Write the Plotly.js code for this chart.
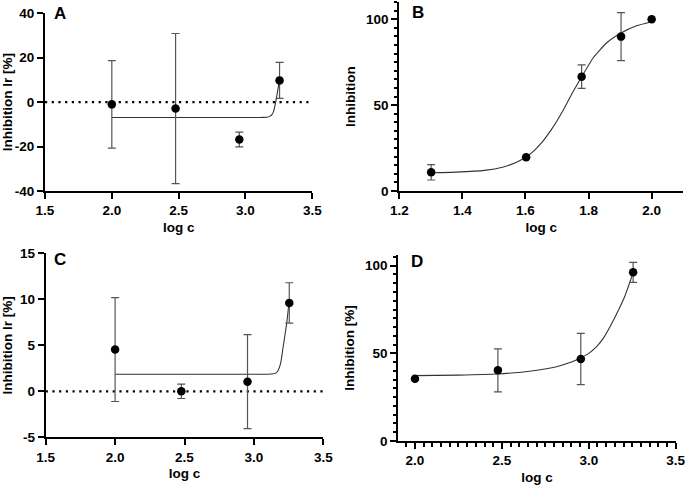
<!DOCTYPE html>
<html>
<head>
<meta charset="utf-8">
<script src="https://cdn.plot.ly/plotly-3.0.1.min.js"></script>
<style>html,body{margin:0;padding:0;background:#fff;}#chart{width:685px;height:487px;}</style>
</head>
<body>
<div id="chart"></div>
<script>
// ---------- Data ----------
// Panel A
const A_x = [2.0, 2.477, 2.954, 3.255];
const A_y = [-1.0, -2.9, -16.8, 9.8];
const A_err = [19.7, 33.8, 3.3, 8.1];
const A_curveX = [2.0, 2.5, 3.0, 3.12, 3.16, 3.184, 3.198, 3.209, 3.229, 3.246, 3.255];
const A_curveY = [-6.9, -6.9, -6.9, -6.88, -6.8, -6.3, -5.6, -4.4, 0.9, 6.9, 9.9];
const A_yticks = [-40, -20, 0, 20, 40];
const A_yticktext = ['-40', '-20', '0', '20', '40'];

// Panel B
const B_x = [1.301, 1.602, 1.778, 1.903, 2.0];
const B_y = [10.9, 19.6, 66.6, 89.9, 100];
const B_err = [4.5, null, 6.8, 14.0, null];
const B_curveX = [1.301, 1.38, 1.47, 1.53, 1.57, 1.602, 1.63, 1.656, 1.683, 1.72, 1.752, 1.778, 1.815, 1.857, 1.903, 1.952, 2.0];
const B_curveY = [10.6, 11.0, 12.0, 14.0, 16.6, 19.8, 24.0, 29.2, 36.0, 47.2, 58.2, 66.5, 77.6, 86.2, 92.0, 96.2, 98.6];

// Panel C
const C_x = [2.0, 2.477, 2.954, 3.255];
const C_y = [4.54, 0.0, 1.05, 9.6];
const C_err = [5.65, 0.78, 5.1, 2.2];
const C_curveX = [2.0, 2.5, 3.0, 3.1, 3.14, 3.16, 3.175, 3.19, 3.2, 3.207, 3.236, 3.253];
const C_curveY = [1.85, 1.85, 1.85, 1.86, 1.9, 2.0, 2.3, 2.9, 3.7, 4.46, 7.36, 9.65];
const C_yticks = [-5, 0, 5, 10, 15];
const C_yticktext = ['-5', '0', '5', '10', '15'];

// Panel D
const D_x = [2.0, 2.477, 2.954, 3.255];
const D_y = [35.5, 40.3, 46.8, 96.2];
const D_err = [null, 12.3, 14.6, 5.7];
const D_curveX = [2.0, 2.25, 2.47, 2.681, 2.815, 2.9, 2.949, 3.0, 3.045, 3.085, 3.122, 3.155, 3.18, 3.205, 3.227, 3.256];
const D_curveY = [37.3, 37.6, 38.2, 40.1, 42.4, 45.0, 47.2, 50.0, 53.8, 58.8, 65.2, 71.5, 76.6, 82.0, 88.0, 96.2];

// Reference (zero) lines for A and C
const refX = [1.5, 3.5];
const refY = [0, 0];

// ---------- Styling ----------
const FONT = 'Arial, Liberation Sans, Helvetica, sans-serif';
const W = 685, H = 487;
const px = v => v / W;
const py = v => 1 - v / H;
const bold = s => '<b>' + s + '</b>';

function curve(x, y, ax) {
  return {x: x, y: y, xaxis: 'x' + ax, yaxis: 'y' + ax, mode: 'lines',
    line: {color: '#333', width: 1.1, shape: 'spline', smoothing: 0.5},
    hoverinfo: 'skip', showlegend: false};
}
function points(x, y, e, ax) {
  return {x: x, y: y, xaxis: 'x' + ax, yaxis: 'y' + ax, mode: 'markers',
    marker: {color: '#000', size: 8.5},
    error_y: {type: 'data', array: e, visible: true, color: '#555', thickness: 1.2, width: 4},
    showlegend: false};
}
function ref(ax) {
  return {x: refX, y: refY, xaxis: 'x' + ax, yaxis: 'y' + ax, mode: 'lines',
    line: {color: '#000', width: 2.2, dash: '2.2px,4.5px'}, hoverinfo: 'skip', showlegend: false};
}

const tickfont = {family: FONT, size: 13.5, color: '#000', weight: 'bold'};
const titlefont = {family: FONT, size: 13.5, color: '#000', weight: 'bold'};

function xaxis(domain, range, dtick, tick0, anchor, extra) {
  return Object.assign({
    domain: domain, range: range, dtick: dtick, tick0: tick0, anchor: anchor,
    showline: true, linewidth: 2, linecolor: '#000', ticks: 'outside', ticklen: 6,
    tickwidth: 2, tickcolor: '#000', showgrid: false, zeroline: false,
    tickformat: '.1f', tickfont: tickfont, tickprefix: '<b>', ticksuffix: '</b>',
    ticklabeloverflow: 'allow',
    title: {text: bold('log c'), font: titlefont, standoff: 5}
  }, extra || {});
}
function yaxis(domain, range, anchor, title, extra) {
  return Object.assign({
    domain: domain, range: range, anchor: anchor,
    showline: true, linewidth: 2, linecolor: '#000', ticks: 'outside', ticklen: 6,
    tickwidth: 2, tickcolor: '#000', showgrid: false, zeroline: false,
    tickfont: tickfont, tickprefix: '<b>', ticksuffix: '</b>',
    ticklabeloverflow: 'allow',
    title: {text: bold(title), font: titlefont, standoff: 7}
  }, extra || {});
}

const data = [
  ref(''), curve(A_curveX, A_curveY, ''), points(A_x, A_y, A_err, ''),
  curve(B_curveX, B_curveY, '2'), points(B_x, B_y, B_err, '2'),
  ref('3'), curve(C_curveX, C_curveY, '3'), points(C_x, C_y, C_err, '3'),
  curve(D_curveX, D_curveY, '4'), points(D_x, D_y, D_err, '4')
];

const minor = (d) => ({dtick: d, ticklen: 3.5, tickwidth: 2, tickcolor: '#000', ticks: 'outside', showgrid: false});

const layout = {
  width: W, height: H,
  margin: {l: 0, r: 0, t: 0, b: 0},
  paper_bgcolor: '#fff', plot_bgcolor: '#fff',
  font: {family: FONT, color: '#000'},
  showlegend: false,
  xaxis: xaxis([px(45), px(312.3)], [1.5, 3.5], 0.5, 1.5, 'y'),
  yaxis: yaxis([py(191), py(13.3)], [-40, 40], 'x', 'Inhibition Ir [%]',
    {tickmode: 'array', tickvals: A_yticks, ticktext: A_yticktext.map(bold), tickprefix: '', ticksuffix: ''}),
  xaxis2: xaxis([px(399.3), px(683.2)], [1.2, 2.1], 0.2, 1.2, 'y2'),
  yaxis2: yaxis([py(191), py(2.1)], [0, 110], 'x2', 'Inhibition',
    {dtick: 50, tick0: 0, minor: minor(5)}),
  xaxis3: xaxis([px(45.7), px(323.3)], [1.5, 3.5], 0.5, 1.5, 'y3'),
  yaxis3: yaxis([py(437.3), py(253.3)], [-5, 15], 'x3', 'Inhibition Ir [%]',
    {tickmode: 'array', tickvals: C_yticks, ticktext: C_yticktext.map(bold), tickprefix: '', ticksuffix: ''}),
  xaxis4: xaxis([px(398.3), px(675.7)], [1.904, 3.5], 0.5, 2.0, 'y4',
    {minor: Object.assign(minor(0.05), {tick0: 2.0})}),
  yaxis4: yaxis([py(441), py(255)], [0, 106.1], 'x4', 'Inhibition [%]',
    {dtick: 50, tick0: 0, minor: minor(5)}),
  annotations: [
    {text: 'A', x: px(59.7), y: py(13.2)},
    {text: 'B', x: px(417.5), y: py(12.5)},
    {text: 'C', x: px(60), y: py(259.2)},
    {text: 'D', x: px(417), y: py(261.2)}
  ].map(a => Object.assign(a, {text: bold(a.text), xref: 'paper', yref: 'paper', xanchor: 'center', yanchor: 'middle',
    showarrow: false, font: {family: FONT, size: 17, color: '#000', weight: 'bold'}}))
};

Plotly.newPlot('chart', data, layout, {displayModeBar: false, staticPlot: true});
</script>
</body>
</html>
